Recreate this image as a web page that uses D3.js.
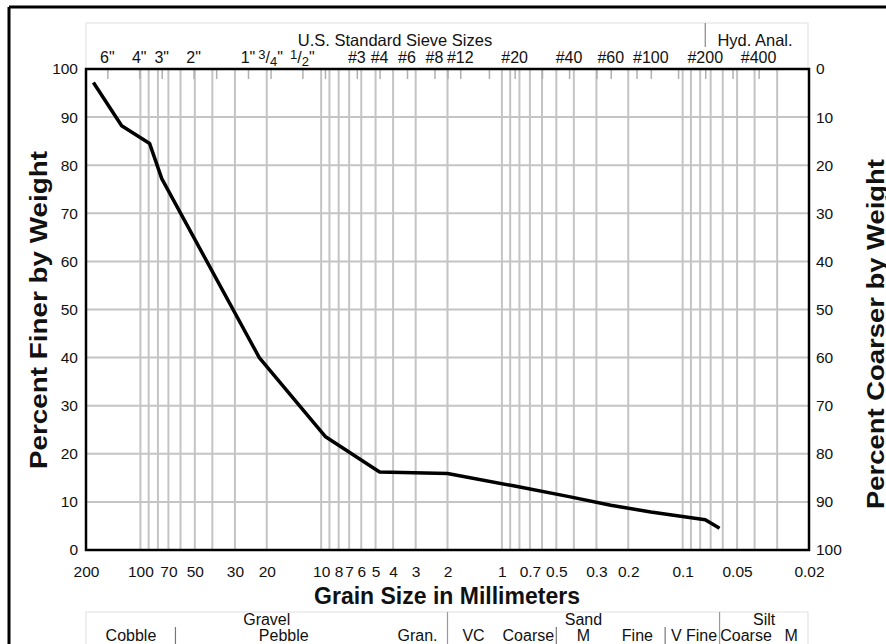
<!DOCTYPE html>
<html lang="en">
<head>
  <meta charset="UTF-8">
  <title>Grain Size Distribution</title>
  <script src="https://d3js.org/d3.v7.min.js"></script>
  <style>
    body { margin: 0; background: #fff; font-family: 'Liberation Sans', Arial, sans-serif; }
    svg text { font-family: 'Liberation Sans', Arial, sans-serif; fill: #111; }
    .axis .domain { display: none; }
    .axis text { font-size: 15.5px; }
  </style>
</head>
<body>
  <svg id="chart" width="886" height="644"></svg>
  <script>
    // grain size (mm) vs percent finer
    const grainMm = [182, 127, 88.9, 76.2, 22, 9.5, 4.75, 2.0, 0.85, 0.425, 0.25, 0.15, 0.075, 0.0625];
    const pctFiner = [97.2, 88.2, 84.5, 77.2, 40.0, 23.6, 16.2, 15.9, 13.3, 11.1, 9.3, 7.9, 6.3, 4.5];

    const gridMm = [100, 90, 80, 70, 60, 50, 40, 30, 20, 10, 9, 8, 7, 6, 5, 4, 3, 2,
                    1, 0.9, 0.8, 0.7, 0.6, 0.5, 0.4, 0.3, 0.2, 0.1, 0.09, 0.08, 0.07, 0.06, 0.05, 0.04, 0.03];
    const bottomTicks = [200, 100, 70, 50, 30, 20, 10, 8, 7, 6, 5, 4, 3, 2, 1, 0.7, 0.5, 0.3, 0.2, 0.1, 0.05, 0.02];
    const pctTicks = [0, 10, 20, 30, 40, 50, 60, 70, 80, 90, 100];

    // US standard sieve openings (mm)
    const sieveTickMm = [152.4, 101.6, 76.2, 50.8, 38.1, 25.4, 19.05, 12.7, 9.525, 6.35, 4.75, 3.35, 2.36,
                         2.0, 1.7, 1.18, 0.85, 0.6, 0.425, 0.3, 0.25, 0.18, 0.15, 0.106, 0.075, 0.053, 0.038];
    const sieveLabels = ['6"', '4"', '3"', '2"', '1"', '3/4"', '1/2"', '#3', '#4', '#6', '#8', '#12',
                         '#20', '#40', '#60', '#100', '#200', '#400'];
    const sieveLabelMm = [152.4, 101.6, 76.2, 50.8, 25.4, 19.05, 12.7, 6.35, 4.75, 3.35, 2.36, 1.7,
                          0.85, 0.425, 0.25, 0.15, 0.075, 0.038];

    // classification strip under the chart
    const classTop = ['Gravel', 'Sand', 'Silt'];
    const classTopMm = [20, 0.354, 0.0354];
    const classLow = ['Cobble', 'Pebble', 'Gran.', 'VC', 'Coarse', 'M', 'Fine', 'V Fine', 'Coarse', 'M'];
    const classLowMm = [112.8, 16.1, 2.93, 1.436, 0.714, 0.354, 0.178, 0.0865, 0.0446, 0.0251];
    const classFullMm = [2, 0.0625];
    const classPartMm = [64, 0.5, 0.125];

    const svg = d3.select("#chart");
    const L = 86, R = 809, T = 69, B = 550;

    const x = d3.scaleLog().domain([200, 0.02]).range([L, R]);
    const y = d3.scaleLinear().domain([0, 100]).range([B, T]);
    const yR = d3.scaleLinear().domain([100, 0]).range([B, T]);

    // outer frame
    svg.append("line").attr("x1", 9).attr("x2", 886).attr("y1", 7).attr("y2", 7)
      .attr("stroke", "#000").attr("stroke-width", 3);
    svg.append("line").attr("x1", 9).attr("x2", 9).attr("y1", 7).attr("y2", 644)
      .attr("stroke", "#000").attr("stroke-width", 3);

    // header panel
    svg.append("rect").attr("x", L).attr("y", 23).attr("width", R - L - 1).attr("height", T - 23)
      .attr("fill", "none").attr("stroke", "#e4e4e4").attr("stroke-width", 1.2);
    svg.append("line").attr("x1", x(0.075)).attr("x2", x(0.075)).attr("y1", 23).attr("y2", 47)
      .attr("stroke", "#888").attr("stroke-width", 1.2);
    svg.append("text").attr("x", 395).attr("y", 46).attr("text-anchor", "middle")
      .style("font-size", "16.5px").text("U.S. Standard Sieve Sizes");
    svg.append("text").attr("x", 755).attr("y", 46).attr("text-anchor", "middle")
      .style("font-size", "16.5px").text("Hyd. Anal.");

    // grid
    const grid = svg.append("g");
    grid.selectAll("line.gx").data(gridMm).join("line").attr("class", "gx")
      .attr("x1", d => x(d)).attr("x2", d => x(d)).attr("y1", T).attr("y2", B)
      .attr("stroke", "#c4c4c4").attr("stroke-width", 2);
    grid.selectAll("line.gy").data(pctTicks.slice(1, -1)).join("line").attr("class", "gy")
      .attr("x1", L).attr("x2", R).attr("y1", d => y(d)).attr("y2", d => y(d))
      .attr("stroke", "#c4c4c4").attr("stroke-width", 2);

    // sieve ticks on top edge
    svg.append("g").attr("class", "axis").attr("transform", `translate(0,${T})`)
      .call(d3.axisTop(x).tickValues(sieveTickMm).tickSize(-10).tickFormat(""))
      .selectAll("line").attr("stroke", "#b0b0b0").attr("stroke-width", 1.5);

    // sieve labels
    const sl = svg.append("g").selectAll("text").data(sieveLabels).join("text")
      .attr("x", (d, i) => x(sieveLabelMm[i])).attr("y", 63)
      .attr("text-anchor", "middle").style("font-size", "16px");
    sl.each(function(d) {
      const t = d3.select(this);
      if (d.includes("/")) {
        const [a, b] = d.replace('"', '').split("/");
        t.append("tspan").attr("dy", -4).style("font-size", "13px").text(a);
        t.append("tspan").attr("dy", 4).text("/");
        t.append("tspan").attr("dy", 3).style("font-size", "13px").text(b);
        t.append("tspan").attr("dy", -3).text('"');
      } else {
        t.text(d);
      }
    });

    // curve
    const pts = grainMm.map((d, i) => [d, pctFiner[i]]);
    svg.append("path").datum(pts)
      .attr("fill", "none").attr("stroke", "#000").attr("stroke-width", 3.5)
      .attr("stroke-linejoin", "round")
      .attr("d", d3.line().x(d => x(d[0])).y(d => y(d[1])));

    // plot frame
    svg.append("rect").attr("x", L).attr("y", T).attr("width", R - L).attr("height", B - T)
      .attr("fill", "none").attr("stroke", "#000").attr("stroke-width", 2.5);

    // axes
    svg.append("g").attr("class", "axis").attr("transform", `translate(${L},0)`)
      .call(d3.axisLeft(y).tickValues(pctTicks).tickSize(0).tickPadding(8));
    svg.append("g").attr("class", "axis").attr("transform", `translate(${R},0)`)
      .call(d3.axisRight(yR).tickValues(pctTicks).tickSize(0).tickPadding(7));
    svg.append("g").attr("class", "axis").attr("transform", `translate(0,${B})`)
      .call(d3.axisBottom(x).tickValues(bottomTicks).tickSize(0).tickPadding(16)
        .tickFormat(d => String(d)));

    // axis titles
    svg.append("text").attr("x", 447).attr("y", 604).attr("text-anchor", "middle")
      .style("font-size", "23px").style("font-weight", "bold").text("Grain Size in Millimeters");
    svg.append("text").attr("transform", "translate(47,310) rotate(-90)").attr("text-anchor", "middle")
      .attr("textLength", 318).attr("lengthAdjust", "spacingAndGlyphs")
      .style("font-size", "23px").style("font-weight", "bold").text("Percent Finer by Weight");
    svg.append("text").attr("transform", "translate(884,334) rotate(-90)").attr("text-anchor", "middle")
      .attr("textLength", 350).attr("lengthAdjust", "spacingAndGlyphs")
      .style("font-size", "23px").style("font-weight", "bold").text("Percent Coarser by Weight");

    // classification strip
    const cl = svg.append("g");
    cl.append("rect").attr("x", L).attr("y", 612).attr("width", R - L - 1).attr("height", 60)
      .attr("fill", "none").attr("stroke", "#e4e4e4").attr("stroke-width", 1.2);
    cl.selectAll("line.full").data(classFullMm).join("line").attr("class", "full")
      .attr("x1", d => x(d)).attr("x2", d => x(d)).attr("y1", 612).attr("y2", 644)
      .attr("stroke", "#999").attr("stroke-width", 1.2);
    cl.selectAll("line.part").data(classPartMm).join("line").attr("class", "part")
      .attr("x1", d => x(d)).attr("x2", d => x(d)).attr("y1", 627).attr("y2", 644)
      .attr("stroke", "#777").attr("stroke-width", 1.2);
    cl.selectAll("text.top").data(classTop).join("text").attr("class", "top")
      .attr("x", (d, i) => x(classTopMm[i])).attr("y", 625).attr("text-anchor", "middle")
      .style("font-size", "16px").text(d => d);
    cl.selectAll("text.low").data(classLow).join("text").attr("class", "low")
      .attr("x", (d, i) => x(classLowMm[i])).attr("y", 641).attr("text-anchor", "middle")
      .style("font-size", "16px").text(d => d);
  </script>
</body>
</html>
